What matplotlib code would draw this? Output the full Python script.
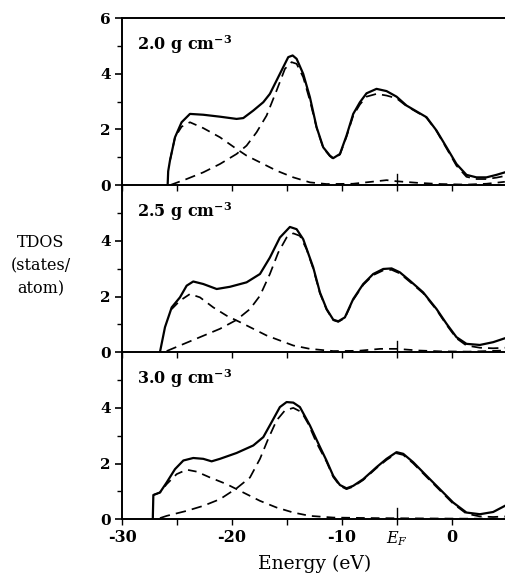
import matplotlib
matplotlib.use('Agg')
import matplotlib.pyplot as plt

plt.rcParams['font.family'] = 'DejaVu Serif'
plt.rcParams['font.size'] = 10
plt.rcParams['mathtext.fontset'] = 'dejavuserif'

# densities shown in the three panels
densities = ['2.0', '2.5', '3.0']

# panel 1 (2.0 g/cm3): total DOS, low-energy (s-like) and high-energy (p-like) parts
e_tot_1 = [-25.85, -25.8, -25.64, -25.18, -24.58, -23.82, -22.61, -21.09, -19.58, -18.97, -18.06,
           -17.15, -16.55, -15.64, -14.88, -14.48, -14.12, -13.52, -12.91, -12.3, -11.7, -11.09,
           -10.79, -10.18, -9.58, -8.97, -8.36, -7.76, -6.85, -5.94, -5.03, -4.12, -3.21, -2.3,
           -1.39, -0.48, 0.42, 1.33, 2.24, 3.15, 4.06, 4.82]
v_tot_1 = [0, 0.5, 0.88, 1.72, 2.26, 2.56, 2.53, 2.46, 2.38, 2.41, 2.68,
           2.98, 3.28, 4.0, 4.6, 4.66, 4.54, 4.0, 3.16, 2.08, 1.36, 1.06,
           0.97, 1.12, 1.78, 2.56, 2.98, 3.3, 3.46, 3.38, 3.18, 2.86, 2.65, 2.44,
           1.96, 1.36, 0.76, 0.37, 0.28, 0.28, 0.37, 0.46]
e_s_1 = [-25.64, -25.18, -24.58, -23.82, -22.61, -21.09, -19.58, -18.67, -17.45, -15.94, -14.42,
         -12.91, -11.39, -9.0, -6.85, -5.94, -5.03, -3.0, -1.0, 1.33, 3.15, 4.82]
v_s_1 = [0.88, 1.72, 2.1, 2.26, 2.05, 1.72, 1.3, 1.06, 0.82, 0.52, 0.28,
         0.1, 0.04, 0.05, 0.14, 0.18, 0.14, 0.08, 0.04, 0.02, 0.05, 0.12]
e_p_1 = [-25.64, -24.12, -22.61, -21.09, -19.58, -18.67, -17.76, -16.85, -15.94, -15.18, -14.58,
         -14.12, -13.52, -12.91, -12.3, -11.7, -11.09, -10.79, -10.18, -9.58, -8.97, -8.36,
         -7.76, -6.85, -5.94, -5.03, -4.12, -3.21, -2.3, -1.39, -0.48, 0.42, 1.33, 2.24, 3.15,
         4.06, 4.82]
v_p_1 = [0, 0.22, 0.46, 0.76, 1.12, 1.42, 1.9, 2.5, 3.4, 4.18, 4.42,
         4.36, 3.88, 3.04, 2.06, 1.34, 1.04, 0.95, 1.1, 1.74, 2.5, 2.9,
         3.18, 3.28, 3.22, 3.12, 2.84, 2.63, 2.42, 1.94, 1.32, 0.7, 0.3, 0.22, 0.22,
         0.27, 0.33]

# panel 2 (2.5 g/cm3)
e_tot_2 = [-26.55, -26.09, -25.48, -24.73, -24.12, -23.52, -22.61, -21.39, -20.18, -18.67, -17.45,
           -16.55, -15.64, -14.73, -14.12, -13.52, -12.61, -12.0, -11.39, -10.79, -10.33, -9.73,
           -8.97, -8.06, -7.15, -6.24, -5.48, -4.73, -3.82, -2.61, -1.39, -0.48, 0.42, 1.33,
           2.55, 3.76, 4.82]
v_tot_2 = [0, 0.9, 1.61, 1.97, 2.39, 2.54, 2.45, 2.27, 2.35, 2.51, 2.81,
           3.4, 4.12, 4.5, 4.42, 4.06, 3.05, 2.15, 1.55, 1.17, 1.11, 1.25,
           1.91, 2.45, 2.81, 2.99, 3.01, 2.87, 2.57, 2.15, 1.55, 1.02, 0.54, 0.3,
           0.26, 0.36, 0.5]
e_s_2 = [-25.48, -24.73, -23.82, -22.91, -21.7, -20.48, -19.27, -18.06, -16.85, -15.64, -14.42,
         -12.91, -10.79, -8.5, -6.5, -5.0, -3.0, -1.0, 1.5, 4.82]
v_s_2 = [1.55, 1.85, 2.09, 1.97, 1.61, 1.31, 1.08, 0.84, 0.6, 0.42, 0.24,
         0.12, 0.04, 0.05, 0.12, 0.12, 0.06, 0.03, 0.02, 0.06]
e_p_2 = [-25.94, -24.73, -22.91, -21.09, -19.58, -18.36, -17.45, -16.55, -15.79, -15.03, -14.42,
         -13.82, -13.21, -12.61, -12.0, -11.39, -10.79, -10.33, -9.73, -8.97, -8.06, -7.15,
         -6.24, -5.48, -4.73, -3.82, -2.61, -1.39, -0.48, 0.42, 1.33, 2.55, 3.76, 4.82]
v_p_2 = [0.04, 0.24, 0.54, 0.84, 1.16, 1.55, 2.03, 2.81, 3.58, 4.12, 4.27,
         4.18, 3.7, 3.0, 2.12, 1.53, 1.15, 1.09, 1.23, 1.88, 2.42, 2.77,
         2.94, 2.96, 2.83, 2.53, 2.12, 1.52, 0.98, 0.5, 0.24, 0.16, 0.14, 0.16]

# panel 3 (3.0 g/cm3)
e_tot_3 = [-27.2, -27.15, -26.55, -25.94, -25.18, -24.42, -23.52, -22.61, -21.85, -21.09, -19.58,
           -18.06, -17.15, -16.39, -15.64, -15.03, -14.42, -13.82, -12.91, -12.0, -11.39, -10.79,
           -10.18, -9.58, -8.97, -8.06, -6.85, -5.94, -5.03, -4.42, -3.52, -2.3, -1.09, 0.12,
           1.33, 2.55, 3.76, 4.82]
v_tot_3 = [0, 0.87, 0.96, 1.32, 1.8, 2.11, 2.2, 2.17, 2.08, 2.17, 2.38,
           2.65, 2.95, 3.49, 4.03, 4.21, 4.19, 4.03, 3.37, 2.6, 2.1, 1.56,
           1.23, 1.11, 1.2, 1.44, 1.87, 2.17, 2.41, 2.35, 2.05, 1.56, 1.08, 0.6,
           0.24, 0.18, 0.26, 0.48]
e_s_3 = [-27.15, -26.55, -25.94, -25.03, -24.12, -23.21, -22.0, -20.48, -18.97, -17.45, -15.94,
         -14.42, -12.91, -10.79, -7.0, -3.0, 1.0, 4.82]
v_s_3 = [0.87, 0.96, 1.26, 1.62, 1.78, 1.71, 1.5, 1.26, 0.96, 0.66, 0.42,
         0.24, 0.12, 0.06, 0.04, 0.03, 0.02, 0.02]
e_p_3 = [-26.55, -25.94, -24.12, -22.61, -21.09, -19.58, -18.36, -17.45, -16.7, -15.94, -15.18,
         -14.42, -13.67, -13.06, -12.3, -11.39, -10.79, -10.18, -9.58, -8.97, -8.06, -6.85,
         -5.94, -5.03, -4.42, -3.52, -2.3, -1.09, 0.12, 1.33, 2.55, 3.76, 4.82]
v_p_3 = [0.04, 0.12, 0.3, 0.48, 0.72, 1.11, 1.5, 2.17, 2.89, 3.55, 3.91,
         4.0, 3.85, 3.43, 2.74, 2.06, 1.52, 1.2, 1.08, 1.17, 1.41, 1.84,
         2.13, 2.37, 2.31, 2.01, 1.52, 1.04, 0.56, 0.2, 0.1, 0.08, 0.1]

panels = [
    (e_tot_1, v_tot_1, e_s_1, v_s_1, e_p_1, v_p_1),
    (e_tot_2, v_tot_2, e_s_2, v_s_2, e_p_2, v_p_2),
    (e_tot_3, v_tot_3, e_s_3, v_s_3, e_p_3, v_p_3),
]

e_fermi = -5.0
x_ticks = [-30, -25, -20, -15, -10, -5, 0, 5]
x_labels = ['-30', '', '-20', '', '-10', '$E_F$', '0', '']

fig = plt.figure(figsize=(5.05, 5.75), dpi=100, facecolor='white')
left, width = 0.2416, 0.762
height = 0.2904
bottoms = [0.678, 0.3875, 0.0970]

for i, (dens, data, bottom) in enumerate(zip(densities, panels, bottoms)):
    e_t, v_t, e_s, v_s, e_p, v_p = data
    ax = fig.add_axes([left, bottom, width, height])
    ax.set_facecolor('none')
    ax.plot(e_t, v_t, color='black', lw=1.6, solid_joinstyle='round', zorder=3)
    ax.plot(e_s, v_s, color='black', lw=1.25, dashes=(5, 3.5), zorder=2)
    ax.plot(e_p, v_p, color='black', lw=1.25, dashes=(6, 3.5), zorder=2)

    ax.set_xlim(-30, 5)
    ax.set_ylim(0, 6)
    ax.set_xticks(x_ticks)
    ax.set_yticks([0, 2, 4, 6] if i == 0 else [0, 2, 4])
    ax.set_yticks([1, 3, 5], minor=True)
    ax.tick_params(axis='y', which='major', direction='out', length=5, width=1.2,
                   labelsize=11, pad=3)
    ax.tick_params(axis='y', which='minor', direction='out', length=3.5, width=1.0)
    ax.tick_params(axis='x', direction='out', length=4, width=1.0, labelsize=11.5, pad=3)
    for lab in ax.get_yticklabels():
        lab.set_fontweight('bold')
    if i == 2:
        ax.set_xticklabels(x_labels, fontweight='bold')
        ax.set_xlabel('Energy (eV)', fontsize=13.5, labelpad=5)
    else:
        ax.set_xticklabels([])

    # E_F mark crosses the baseline
    ax.axvline(e_fermi, ymin=0, ymax=0.065, color='black', lw=1.0)

    ax.spines['right'].set_visible(False)
    ax.spines['top'].set_visible(i == 0)
    for s in ['left', 'bottom', 'top']:
        ax.spines[s].set_linewidth(1.4)

    ax.text(0.04, 0.84, dens + r' g cm$^{\mathbf{-3}}$', transform=ax.transAxes,
            fontsize=11.5, fontweight='bold', va='center', ha='left')

fig.text(0.08, 0.538, 'TDOS\n(states/\natom)', ha='center', va='center',
         fontsize=11.5, linespacing=1.45)

fig.savefig('out.png', dpi=100, facecolor='white')
plt.close(fig)
